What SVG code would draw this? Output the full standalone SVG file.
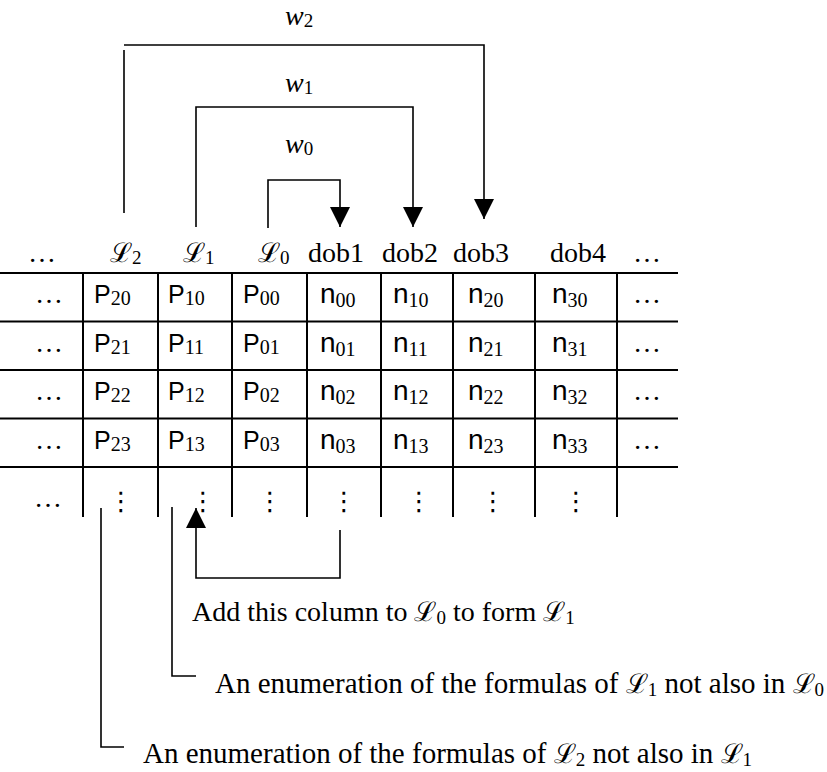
<svg xmlns="http://www.w3.org/2000/svg" width="827" height="772" viewBox="0 0 827 772">
<style>
.grid{stroke:#000;stroke-width:2;fill:none}
.con{stroke:#000;stroke-width:1.6;fill:none}
.tm{font-family:'Liberation Serif','Times New Roman',serif;font-size:28px;fill:#000}
.tb{font-family:'Liberation Serif','Times New Roman',serif;font-size:29px;fill:#000}
.ti{font-family:'Liberation Serif','Times New Roman',serif;font-size:28px;font-style:italic;fill:#000}
.sc{font-family:'DejaVu Serif','Liberation Serif',serif;font-size:27px;fill:#000}
.ar{font-family:'Liberation Sans',Arial,sans-serif;font-size:25px;fill:#000}
.arn{font-family:'Liberation Sans',Arial,sans-serif;font-size:28px;fill:#000}
.sub{font-family:'Liberation Serif','Times New Roman',serif;font-size:19px;font-style:normal}
.tsub{font-family:'Liberation Serif','Times New Roman',serif;font-size:20px}
.vd{font-family:'DejaVu Sans',sans-serif;font-size:26px;fill:#000;text-anchor:middle}
</style>
<defs>
<marker id="arr" viewBox="0 0 10 10" refX="10" refY="5" markerWidth="20" markerHeight="21" markerUnits="userSpaceOnUse" orient="auto">
<path d="M0,0 L10,5 L0,10 z" fill="#000"/>
</marker>
</defs>

<g id="table">
<path class="grid" d="M0,273H678M0,321.5H678M0,370H678M0,418.5H678M0,467H678"/>
<path class="grid" d="M83,273V517M158,273V517M232,273V517M307,273V517M381,273V517M453,273V517M535,273V517M617,273V517"/>
</g>

<g id="header">
<text class="tm" x="28" y="262">…</text>
<text class="sc" x="110" y="262">ℒ<tspan class="sub" dy="2">2</tspan></text>
<text class="sc" x="183" y="262">ℒ<tspan class="sub" dy="2">1</tspan></text>
<text class="sc" x="258" y="262">ℒ<tspan class="sub" dy="2">0</tspan></text>
<text class="tm" x="308" y="262">dob1</text>
<text class="tm" x="382" y="262">dob2</text>
<text class="tm" x="453" y="262">dob3</text>
<text class="tm" x="550" y="262">dob4</text>
<text class="tm" x="633" y="262">…</text>
</g>

<g id="row0">
<text class="tm" x="35" y="303">…</text>
<text class="ar" x="94" y="303">P<tspan class="tsub" dy="2">20</tspan></text>
<text class="ar" x="168" y="303">P<tspan class="tsub" dy="2">10</tspan></text>
<text class="ar" x="243" y="303">P<tspan class="tsub" dy="2">00</tspan></text>
<text class="arn" x="320" y="303">n<tspan class="tsub" dy="4">00</tspan></text>
<text class="arn" x="393" y="303">n<tspan class="tsub" dy="4">10</tspan></text>
<text class="arn" x="468" y="303">n<tspan class="tsub" dy="4">20</tspan></text>
<text class="arn" x="552" y="303">n<tspan class="tsub" dy="4">30</tspan></text>
<text class="tm" x="633" y="303">…</text>
</g>
<g id="row1">
<text class="tm" x="35" y="351.5">…</text>
<text class="ar" x="94" y="351.5">P<tspan class="tsub" dy="2">21</tspan></text>
<text class="ar" x="168" y="351.5">P<tspan class="tsub" dy="2">11</tspan></text>
<text class="ar" x="243" y="351.5">P<tspan class="tsub" dy="2">01</tspan></text>
<text class="arn" x="320" y="351.5">n<tspan class="tsub" dy="4">01</tspan></text>
<text class="arn" x="393" y="351.5">n<tspan class="tsub" dy="4">11</tspan></text>
<text class="arn" x="468" y="351.5">n<tspan class="tsub" dy="4">21</tspan></text>
<text class="arn" x="552" y="351.5">n<tspan class="tsub" dy="4">31</tspan></text>
<text class="tm" x="633" y="351.5">…</text>
</g>
<g id="row2">
<text class="tm" x="35" y="400">…</text>
<text class="ar" x="94" y="400">P<tspan class="tsub" dy="2">22</tspan></text>
<text class="ar" x="168" y="400">P<tspan class="tsub" dy="2">12</tspan></text>
<text class="ar" x="243" y="400">P<tspan class="tsub" dy="2">02</tspan></text>
<text class="arn" x="320" y="400">n<tspan class="tsub" dy="4">02</tspan></text>
<text class="arn" x="393" y="400">n<tspan class="tsub" dy="4">12</tspan></text>
<text class="arn" x="468" y="400">n<tspan class="tsub" dy="4">22</tspan></text>
<text class="arn" x="552" y="400">n<tspan class="tsub" dy="4">32</tspan></text>
<text class="tm" x="633" y="400">…</text>
</g>
<g id="row3">
<text class="tm" x="35" y="448.5">…</text>
<text class="ar" x="94" y="448.5">P<tspan class="tsub" dy="2">23</tspan></text>
<text class="ar" x="168" y="448.5">P<tspan class="tsub" dy="2">13</tspan></text>
<text class="ar" x="243" y="448.5">P<tspan class="tsub" dy="2">03</tspan></text>
<text class="arn" x="320" y="448.5">n<tspan class="tsub" dy="4">03</tspan></text>
<text class="arn" x="393" y="448.5">n<tspan class="tsub" dy="4">13</tspan></text>
<text class="arn" x="468" y="448.5">n<tspan class="tsub" dy="4">23</tspan></text>
<text class="arn" x="552" y="448.5">n<tspan class="tsub" dy="4">33</tspan></text>
<text class="tm" x="633" y="448.5">…</text>
</g>
<g id="row4">
<text class="tm" x="34" y="507">…</text>
<text class="vd" x="121" y="510">⋮</text>
<text class="vd" x="203" y="510">⋮</text>
<text class="vd" x="270" y="510">⋮</text>
<text class="vd" x="344" y="510">⋮</text>
<text class="vd" x="419" y="510">⋮</text>
<text class="vd" x="493" y="510">⋮</text>
<text class="vd" x="576" y="510">⋮</text>
</g>

<g id="labels">
<text class="ti" x="285" y="25">w<tspan class="sub" dy="2">2</tspan></text>
<text class="ti" x="285" y="92">w<tspan class="sub" dy="2">1</tspan></text>
<text class="ti" x="285" y="153">w<tspan class="sub" dy="2">0</tspan></text>
<text class="tm" x="192" y="621">Add this column to <tspan class="sc">ℒ</tspan><tspan class="sub" dy="3">0</tspan><tspan dy="-3"> to form </tspan><tspan class="sc">ℒ</tspan><tspan class="sub" dy="3">1</tspan></text>
<text class="tb" x="215" y="693">An enumeration of the formulas of <tspan class="sc">ℒ</tspan><tspan class="sub" dy="3">1</tspan><tspan dy="-3"> not also in </tspan><tspan class="sc">ℒ</tspan><tspan class="sub" dy="3">0</tspan></text>
<text class="tb" x="143" y="763">An enumeration of the formulas of <tspan class="sc">ℒ</tspan><tspan class="sub" dy="3">2</tspan><tspan dy="-3"> not also in </tspan><tspan class="sc">ℒ</tspan><tspan class="sub" dy="3">1</tspan></text>
</g>

<g id="connectors">
<path class="con" d="M124,213V50M124,45H484V219" marker-end="url(#arr)"/>
<path class="con" d="M196,227V107H413V227" marker-end="url(#arr)"/>
<path class="con" d="M268,228V180H340V227" marker-end="url(#arr)"/>
<path class="con" d="M340,530V578H196V508" marker-end="url(#arr)"/>
<path class="con" d="M172,507V676H196"/>
<path class="con" d="M101,508V747H124"/>
</g>
</svg>
